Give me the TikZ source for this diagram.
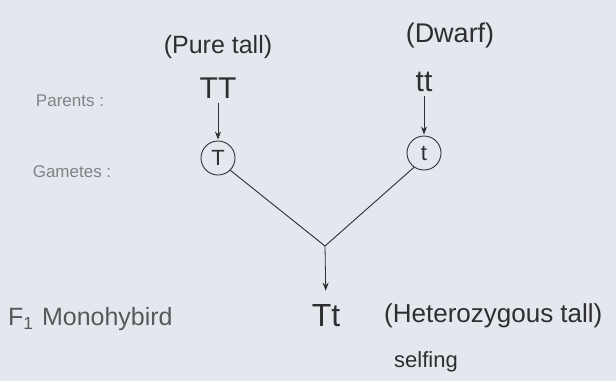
\documentclass[tikz,border=0pt]{standalone}
\usepackage{fontspec}
\setmainfont{Liberation Sans}
\usetikzlibrary{arrows.meta}
\definecolor{paper}{HTML}{E4E8EE}
\definecolor{ink}{HTML}{2E2E30}
\definecolor{faint}{HTML}{808286}
\begin{document}
\begin{tikzpicture}[x=1pt,y=-1pt,
  txt/.style={inner sep=0pt,text=ink},
  lbl/.style={inner sep=0pt,text=faint,font=\fontsize{17}{19}\selectfont},
  gam/.style={circle,draw=ink,line width=0.9pt,minimum size=34pt,inner sep=0pt,text=ink,font=\fontsize{22}{24}\selectfont},
  arr/.style={draw=ink,line width=0.8pt,-{Stealth[length=8pt,width=6pt]}},
  ln/.style={draw=ink,line width=0.9pt}]
\fill[paper] (0,0) rectangle (616,381);
\useasboundingbox (0,0) rectangle (616,381);
\node[txt,font=\fontsize{25}{27}\selectfont] (pt) at (218,47) {(Pure tall)};
\node[txt,font=\fontsize{27}{29}\selectfont] (dw) at (450,36) {(Dwarf)};
\node[lbl] (par) at (70,101) {Parents :};
\node[txt,font=\fontsize{30}{32}\selectfont] (TT) at (218,88) {TT};
\node[txt,font=\fontsize{30}{32}\selectfont] (tt) at (424,82) {tt};
\node[gam] (gT) at (218,158) {T};
\node[gam] (gt) at (424,153) {t};
\node[lbl] (gm) at (72,172) {Gametes :};
\coordinate (v) at (325,246);
\draw[arr,shorten <=4pt,shorten >=1pt] (TT.south) -- (gT.north);
\draw[arr,shorten <=4pt,shorten >=1pt] (tt.south) -- (gt.north);
\draw[ln] (gT.-45) -- (v) -- (gt.-125);
\node[txt,font=\fontsize{32}{34}\selectfont] (Tt) at (326,316) {Tt};
\draw[arr,shorten >=14pt] (v) -- (Tt.north);
\node[txt,font=\fontsize{25}{27}\selectfont,text=ink!80,anchor=west] (f1) at (8,319) {F\textsubscript{1}\,\,Monohybird};
\node[txt,font=\fontsize{26}{28}\selectfont,anchor=west] (ht) at (384,316) {(Heterozygous tall)};
\node[txt,font=\fontsize{22}{24}\selectfont] (sf) at (426,362) {selfing};
\end{tikzpicture}
\end{document}
